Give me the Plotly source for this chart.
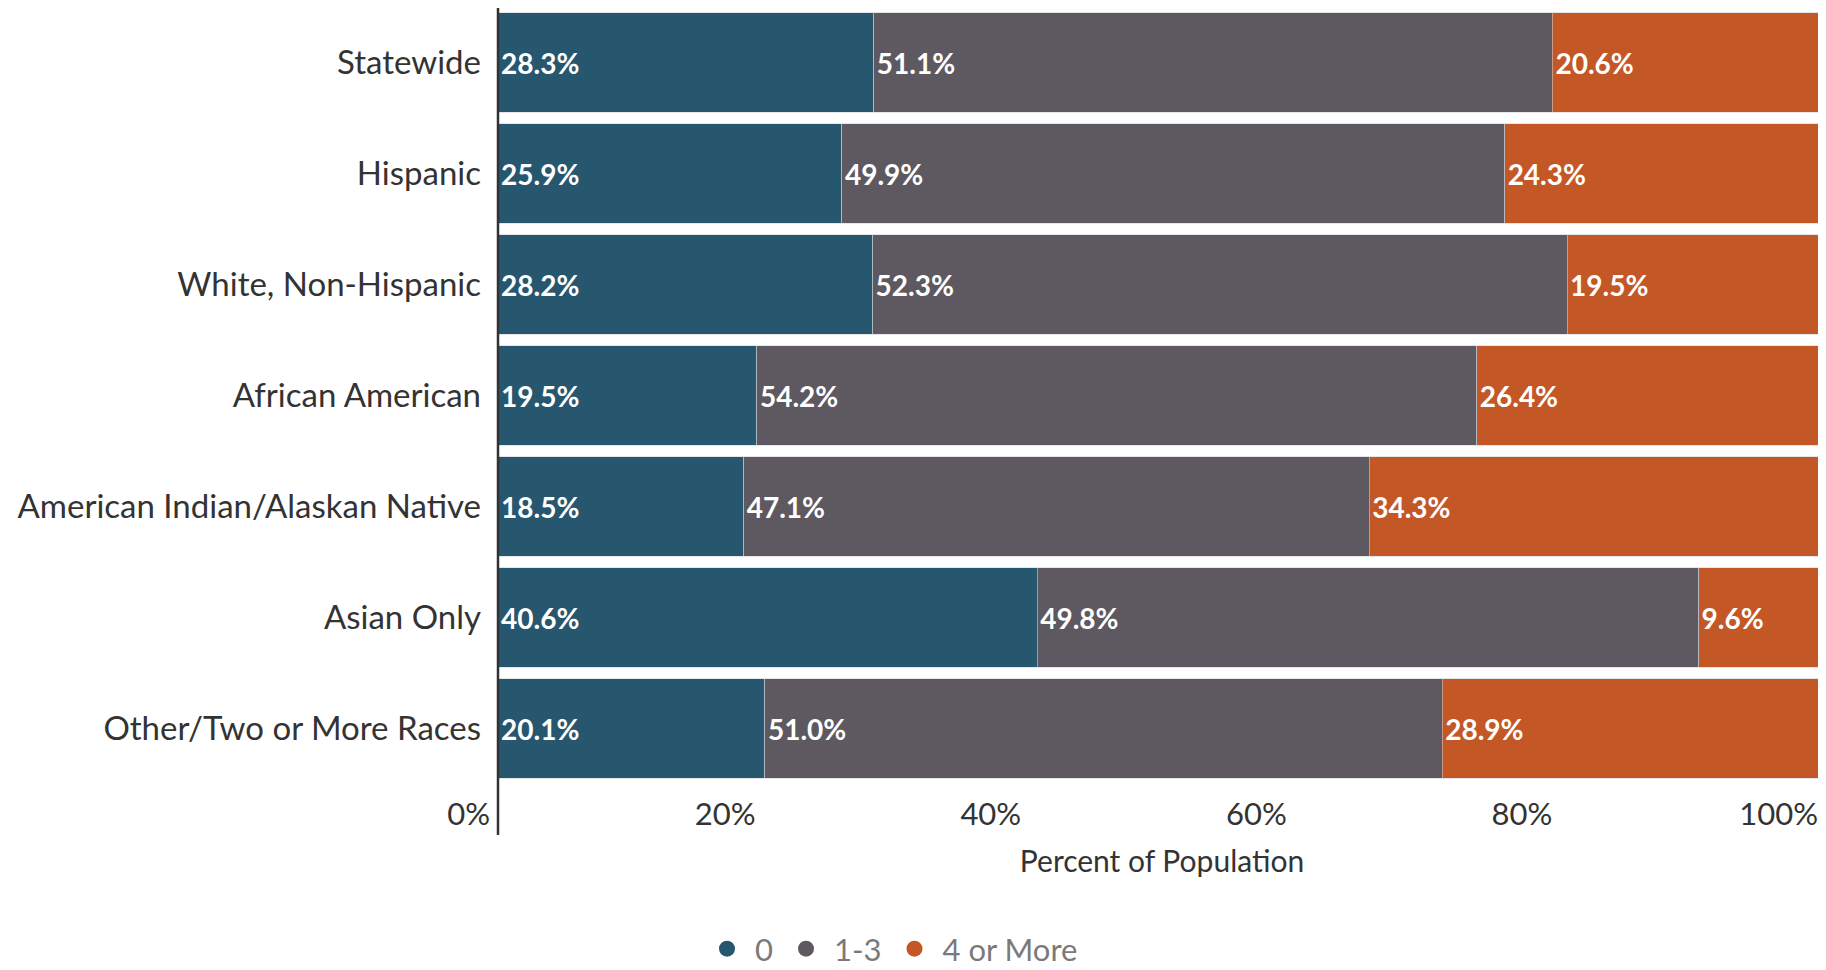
import plotly.graph_objects as go

categories = ["Statewide", "Hispanic", "White, Non-Hispanic", "African American",
              "American Indian/Alaskan Native", "Asian Only", "Other/Two or More Races"]
series_names = ["0", "1-3", "4 or More"]
v_zero = [28.3, 25.9, 28.2, 19.5, 18.5, 40.6, 20.1]
v_one_three = [51.1, 49.9, 52.3, 54.2, 47.1, 49.8, 51.0]
v_four_more = [20.6, 24.3, 19.5, 26.4, 34.3, 9.6, 28.9]
tick_vals = [0, 20, 40, 60, 80, 100]
tick_text = ["0%", "20%", "40%", "60%", "80%", "100%"]
colors = ["#27566F", "#5E5860", "#C35726"]

FONT = "Lato"
OFF = 8  # page body margin of the html page
W, H = 1826 - OFF, 970 - OFF
L, R, T, B = 498 - OFF, 0, 0, 185
plot_h = H - T - B
row_center0 = 62.5 - OFF  # centre of first row in figure pixels
row_pitch = 111.0

fig = go.Figure()
for name, vals, col in zip(series_names, [v_zero, v_one_three, v_four_more], colors):
    fig.add_trace(go.Bar(
        y=categories, x=vals, orientation="h", name=name,
        marker=dict(color=col, line=dict(width=1, color="rgba(210,210,215,0.55)")),
        text=[f"{v:.1f}%" for v in vals],
        textposition="inside", insidetextanchor="start", textangle=0,
        constraintext="none",
        textfont=dict(family=FONT, size=28, color="white", weight="bold"),
        showlegend=False, hoverinfo="skip",
    ))
for name, col in zip(series_names, colors):
    fig.add_trace(go.Scatter(
        x=[None], y=[None], mode="markers", name=name,
        marker=dict(symbol="circle", size=23, color=col),
        showlegend=True,
    ))

# vertical axis line extending below the bars (as in the reference)
fig.add_shape(type="line", xref="paper", yref="paper", x0=0, x1=0,
              y0=-((835 - OFF) - (H - B)) / plot_h, y1=1,
              line=dict(color="#333333", width=2.5))

fig.update_layout(
    barmode="stack", bargap=0.108,
    width=W, height=H,
    margin=dict(l=L, r=R, t=T, b=B, autoexpand=False),
    plot_bgcolor="white", paper_bgcolor="white",
    font=dict(family=FONT, size=31, color="#333333"),
    legend=dict(orientation="h", xref="container", x=(891 - OFF) / W, xanchor="center",
                yref="container", y=(H - (949 - OFF)) / H, yanchor="middle",
                font=dict(family=FONT, size=31, color="#7a7a7a"),
                itemwidth=46, traceorder="normal"),
)
fig.update_xaxes(
    range=[0, 100], tickvals=tick_vals, ticktext=tick_text,
    ticklabelposition="outside left", ticklabelshift=-8, ticklabelstandoff=8,
    showgrid=False, zeroline=False, showline=False, ticks="",
    tickfont=dict(family=FONT, size=31, color="#333333"),
    title=dict(text="Percent of Population", font=dict(family=FONT, size=30, color="#333333"),
               standoff=19),
)
fig.update_yaxes(
    type="category",
    range=[(H - B - row_center0) / row_pitch, (T - row_center0) / row_pitch],
    showgrid=False, zeroline=False, showline=False, ticks="",
    ticklabelstandoff=16,
    tickfont=dict(family=FONT, size=33, color="#333333"),
)
fig.write_html("out.html")
